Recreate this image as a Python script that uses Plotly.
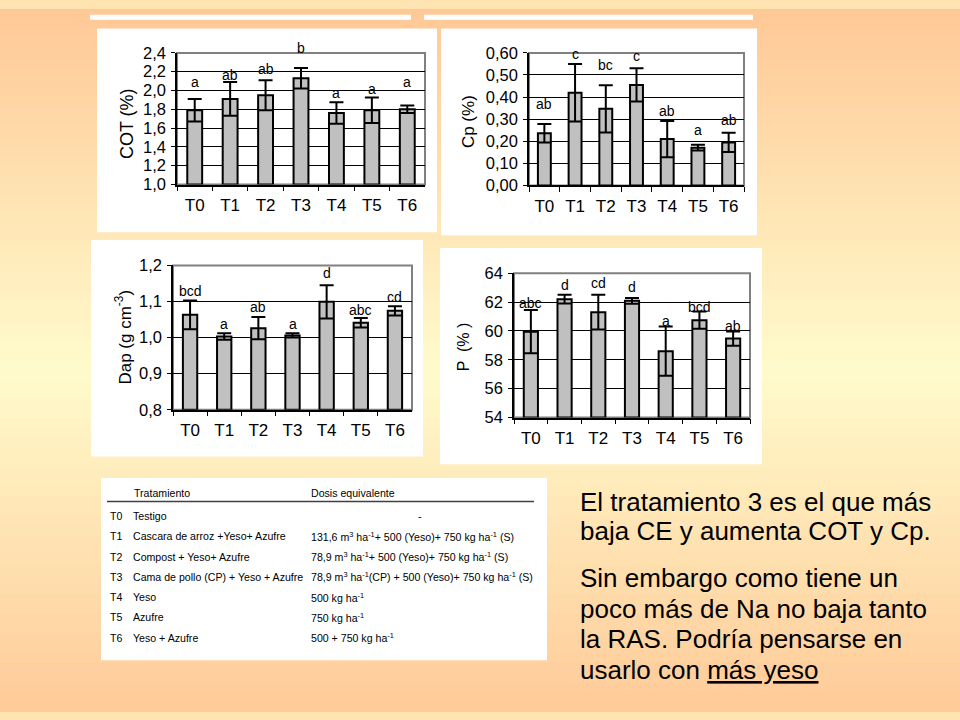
#!/usr/bin/env python3
"""
Slide recreation: soil properties per treatment (COT, Cp, Dap, P)
"""

import plotly.graph_objects as go

W, H = 960, 720

# ---- data -------------------------------------------------------------
treatments = ['T0', 'T1', 'T2', 'T3', 'T4', 'T5', 'T6']

cot_mean = [1.79, 1.91, 1.95, 2.13, 1.76, 1.79, 1.80]
cot_err = [0.12, 0.18, 0.16, 0.11, 0.115, 0.135, 0.04]
cot_letters = ['a', 'ab', 'ab', 'b', 'a', 'a', 'a']
cot_letter_y = [2.09, 2.16, 2.23, 2.45, 1.97, 2.02, 2.09]

cp_mean = [0.236, 0.42, 0.347, 0.455, 0.21, 0.171, 0.195]
cp_err = [0.042, 0.13, 0.107, 0.075, 0.082, 0.013, 0.044]
cp_letters = ['ab', 'c', 'bc', 'c', 'ab', 'a', 'ab']
cp_letter_y = [0.369, 0.593, 0.544, 0.588, 0.337, 0.253, 0.298]

dap_mean = [1.063, 1.003, 1.026, 1.006, 1.099, 1.041, 1.074]
dap_err = [0.04, 0.009, 0.031, 0.006, 0.046, 0.013, 0.013]
dap_letters = ['bcd', 'a', 'ab', 'a', 'd', 'abc', 'cd']
dap_letter_y = [1.13, 1.037, 1.084, 1.039, 1.18, 1.076, 1.112]

p_mean = [59.95, 62.2, 61.3, 62.09, 58.6, 60.75, 59.47]
p_err = [1.5, 0.3, 1.2, 0.2, 1.7, 0.6, 0.5]
p_letters = ['abc', 'd', 'cd', 'd', 'a', 'bcd', 'ab']
p_letter_y = [61.96, 63.15, 63.33, 63.08, 60.68, 61.65, 60.37]

table_codes = ['T0', 'T1', 'T2', 'T3', 'T4', 'T5', 'T6']
table_names = ['Testigo', 'Cascara de arroz +Yeso+ Azufre', 'Compost + Yeso+ Azufre',
               'Cama de pollo (CP) + Yeso + Azufre', 'Yeso', 'Azufre', 'Yeso + Azufre']
table_doses = ['-',
               '131,6 m<sup>3</sup> ha<sup>-1</sup>+ 500 (Yeso)+ 750 kg ha<sup>-1</sup> (S)',
               '78,9 m<sup>3</sup> ha<sup>-1</sup>+ 500 (Yeso)+ 750 kg ha<sup>-1</sup> (S)',
               '78,9 m<sup>3</sup> ha<sup>-1</sup>(CP) + 500 (Yeso)+ 750 kg ha<sup>-1</sup> (S)',
               '500 kg ha<sup>-1</sup>', '750 kg ha<sup>-1</sup>', '500 + 750 kg ha<sup>-1</sup>']

note_lines_1 = ['El tratamiento 3 es el que más', 'baja CE y aumenta COT y Cp.']
note_lines_2 = ['Sin embargo como tiene un', 'poco más de Na no baja tanto',
                'la RAS. Podría pensarse en', 'usarlo con <u>más yeso</u>']

FONT = 'Liberation Sans, Arial, sans-serif'


def px(x):
    return x / W


def py(y):
    return 1 - y / H


def paper_rect(x0, y0, x1, y1, color):
    return dict(type='rect', xref='paper', yref='paper', layer='below',
                x0=px(x0), x1=px(x1), y0=py(y1), y1=py(y0),
                fillcolor=color, line=dict(width=0))


def background_shapes():
    """Vertical orange -> pale yellow -> orange gradient as thin strips"""
    stops = [(0, (255, 200, 150)), (370, (255, 251, 204)), (720, (255, 202, 152))]
    shapes = []
    step = 10
    for y in range(0, H, step):
        yc = y + step / 2
        for (a, ca), (b, cb) in zip(stops[:-1], stops[1:]):
            if a <= yc <= b:
                t = (yc - a) / (b - a)
                c = [round(ca[i] + (cb[i] - ca[i]) * t) for i in range(3)]
                break
        shapes.append(paper_rect(0, y, W, y + step + 1, f'rgb({c[0]},{c[1]},{c[2]})'))
    return shapes


# plot areas in pixels: (left, top, right, bottom)
panels = [
    dict(mean=cot_mean, err=cot_err, letters=cot_letters, ly=cot_letter_y,
         area=(177, 45, 425, 180), rng=[1.0, 2.4], dtick=0.2, fmt='.1f',
         title='COT (%)', tpos=(127, 118), tsize=18),
    dict(mean=cp_mean, err=cp_err, letters=cp_letters, ly=cp_letter_y,
         area=(529, 45, 744, 181), rng=[0, 0.6], dtick=0.1, fmt='.2f',
         title='Cp (%)', tpos=(468, 116), tsize=17),
    dict(mean=dap_mean, err=dap_err, letters=dap_letters, ly=dap_letter_y,
         area=(173, 263, 412, 411), rng=[0.8, 1.2], dtick=0.1, fmt='.1f',
         title='Dap (g cm<sup>-3</sup>)', tpos=(123, 336), tsize=17),
    dict(mean=p_mean, err=p_err, letters=p_letters, ly=p_letter_y,
         area=(514, 271, 750, 419), rng=[54, 64], dtick=2, fmt='d',
         title='P  (% )', tpos=(463, 347), tsize=16),
]

white_boxes = [(97, 20, 437, 229), (441, 20, 757, 232), (91, 237, 423, 459),
               (440, 245, 762, 467), (101, 481, 547, 668)]

fig = go.Figure()
shapes = background_shapes()
for b in white_boxes:
    shapes.append(paper_rect(*b, 'white'))
# two white bars on top of the slide
shapes.append(paper_rect(90, 6, 411, 11, 'white'))
shapes.append(paper_rect(424, 6, 753, 11, 'white'))

annotations = []
layout_axes = {}

for i, p in enumerate(panels, start=1):
    xa = 'x' if i == 1 else f'x{i}'
    ya = 'y' if i == 1 else f'y{i}'
    l, t, r, b = p['area']
    lo, hi = p['rng']
    # bars start at the bottom of each axis
    fig.add_trace(go.Bar(
        x=treatments, y=[v - lo for v in p['mean']], base=lo,
        xaxis=xa, yaxis=ya, width=0.42,
        marker=dict(color='#C0C0C0', line=dict(color='black', width=2)),
        error_y=dict(type='data', array=p['err'], color='black', thickness=2, width=7),
        showlegend=False, hoverinfo='x+y'))
    layout_axes[f'xaxis{"" if i == 1 else i}'] = dict(
        domain=[px(l), px(r)], anchor=ya, type='category',
        tickson='boundaries', ticks='outside', ticklen=5, tickcolor='black',
        showline=True, linecolor='black', linewidth=1.5, showgrid=False,
        tickfont=dict(family=FONT, size=17, color='black'), ticklabelstandoff=4)
    layout_axes[f'yaxis{"" if i == 1 else i}'] = dict(
        domain=[py(b), py(t)], anchor=xa, range=p['rng'], dtick=p['dtick'],
        tick0=lo, tickformat=p['fmt'], ticks='outside', ticklen=4,
        tickcolor='black', showline=True, linecolor='black', linewidth=1.5,
        showgrid=True, gridcolor='black', gridwidth=1, zeroline=False,
        tickfont=dict(family=FONT, size=16.5, color='black'), ticklabelstandoff=2)
    # grey frame of the plot area
    shapes.append(dict(type='rect', xref=f'{xa} domain', yref=f'{ya} domain',
                       x0=0, x1=1, y0=0, y1=1, layer='below',
                       line=dict(color='#808080', width=2)))
    # significance letters; placed on the y domain so labels above the range still show
    for tr, lt, yv in zip(treatments, p['letters'], p['ly']):
        annotations.append(dict(x=tr, y=(yv - lo) / (hi - lo), xref=xa,
                                yref=f'{ya} domain', text=lt,
                                showarrow=False, yanchor='middle',
                                font=dict(family=FONT, size=14, color='black')))
    annotations.append(dict(x=px(p['tpos'][0]), y=py(p['tpos'][1]), xref='paper',
                            yref='paper', text=p['title'], textangle=-90,
                            showarrow=False, xanchor='center', yanchor='middle',
                            font=dict(family=FONT, size=p['tsize'], color='black')))

# ---- treatment table ---------------------------------------------------
tfont = dict(family=FONT, size=10.6, color='black')


def table_text(x, y, text, anchor='left'):
    annotations.append(dict(x=px(x), y=py(y), xref='paper', yref='paper', text=text,
                            showarrow=False, xanchor=anchor, yanchor='middle',
                            font=tfont))


table_text(132, 496, 'Tratamiento')
table_text(309, 496, 'Dosis equivalente')
shapes.append(dict(type='line', xref='paper', yref='paper', x0=px(107), x1=px(534),
                   y0=py(505), y1=py(505), line=dict(color='#404040', width=1.5)))
for k, (code, name, dose) in enumerate(zip(table_codes, table_names, table_doses)):
    yrow = 520 + k * 20.8
    table_text(108, yrow, code)
    table_text(131, yrow, name)
    if dose == '-':
        table_text(420, yrow, dose, 'center')
    else:
        table_text(309, yrow, dose)

# ---- comment text ---------------------------------------------------------
nfont = dict(family=FONT, size=26, color='black')
for k, line in enumerate(note_lines_1):
    annotations.append(dict(x=px(578), y=py(506 + k * 29), xref='paper', yref='paper',
                            text=line, showarrow=False, xanchor='left',
                            yanchor='middle', font=nfont))
for k, line in enumerate(note_lines_2):
    annotations.append(dict(x=px(578), y=py(584 + k * 31.3), xref='paper', yref='paper',
                            text=line, showarrow=False, xanchor='left',
                            yanchor='middle', font=nfont))

fig.update_layout(
    width=W, height=H, margin=dict(l=0, r=0, t=0, b=0),
    paper_bgcolor='#FFE3B0', plot_bgcolor='white',
    separators=',.', showlegend=False,
    shapes=shapes, annotations=annotations, **layout_axes)

# the page body has a default 8px margin; drop it so the slide fills the window
fig.write_html("out.html", config={'displayModeBar': False},
               post_script="document.body.style.margin='0px';"
               "document.body.style.overflow='hidden';")
